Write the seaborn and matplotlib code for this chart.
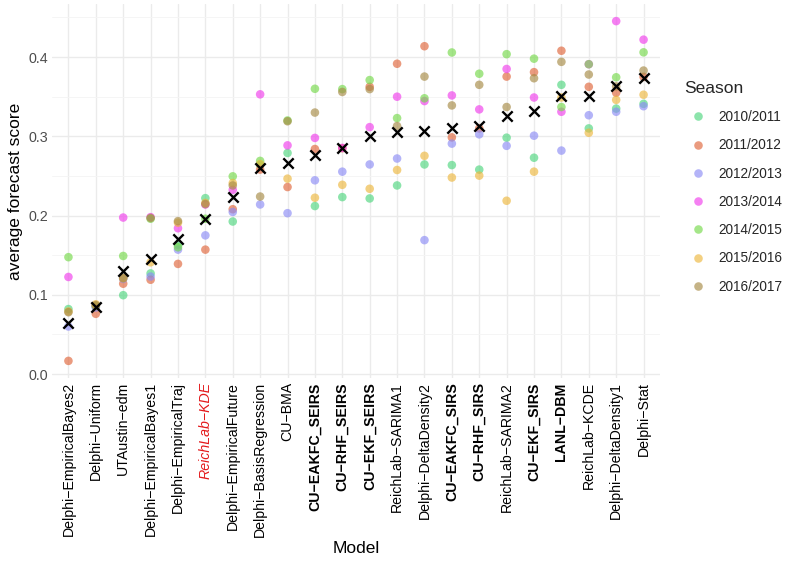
import pandas as pd
import numpy as np
import matplotlib
matplotlib.use('Agg')
import matplotlib.pyplot as plt
import seaborn as sns

sns.set_theme(style='whitegrid')
plt.rcParams['font.family'] = ['Liberation Sans', 'DejaVu Sans']

# models in order of average score
models = ["Delphi−EmpiricalBayes2", "Delphi−Uniform", "UTAustin−edm",
          "Delphi−EmpiricalBayes1", "Delphi−EmpiricalTraj", "ReichLab−KDE",
          "Delphi−EmpiricalFuture", "Delphi−BasisRegression", "CU−BMA",
          "CU−EAKFC_SEIRS", "CU−RHF_SEIRS", "CU−EKF_SEIRS", "ReichLab−SARIMA1",
          "Delphi−DeltaDensity2", "CU−EAKFC_SIRS", "CU−RHF_SIRS",
          "ReichLab−SARIMA2", "CU−EKF_SIRS", "LANL−DBM", "ReichLab−KCDE",
          "Delphi−DeltaDensity1", "Delphi−Stat"]
bold_models = ["CU−EAKFC_SEIRS", "CU−RHF_SEIRS", "CU−EKF_SEIRS",
               "CU−EAKFC_SIRS", "CU−RHF_SIRS", "CU−EKF_SIRS", "LANL−DBM"]
red_model = "ReichLab−KDE"

seasons = ["2010/2011", "2011/2012", "2012/2013", "2013/2014",
           "2014/2015", "2015/2016", "2016/2017"]

s2010 = [0.082, 0.085, 0.0995, 0.127, 0.163, 0.222, 0.1925, 0.264, 0.279, 0.212, 0.2233,
         0.2216, 0.238, 0.2645, 0.2637, 0.258, 0.2983, 0.273, 0.365, 0.310, 0.335, 0.341]
s2011 = [0.0166, 0.076, 0.114, 0.119, 0.139, 0.157, 0.208, 0.258, 0.236, 0.284, 0.285,
         0.3625, 0.3916, 0.4137, 0.2987, 0.310, 0.3754, 0.381, 0.408, 0.3625, 0.355, 0.375]
s2012 = [0.060, 0.084, 0.120, 0.123, 0.157, 0.175, 0.2045, 0.214, 0.203, 0.2445, 0.2554,
         0.2645, 0.272, 0.169, 0.2908, 0.3025, 0.288, 0.3008, 0.282, 0.3266, 0.331, 0.338]
s2013 = [0.1225, 0.086, 0.1975, 0.198, 0.184, 0.214, 0.2325, 0.353, 0.2886, 0.298, 0.2854,
         0.3116, 0.350, 0.3445, 0.3516, 0.334, 0.385, 0.349, 0.331, 0.391, 0.4454, 0.422]
s2014 = [0.1475, 0.086, 0.149, 0.196, 0.160, 0.196, 0.2495, 0.269, 0.320, 0.360, 0.3596,
         0.371, 0.323, 0.348, 0.4058, 0.379, 0.4037, 0.398, 0.337, 0.391, 0.3745, 0.406]
s2015 = [0.079, 0.088, 0.121, 0.141, 0.191, 0.216, 0.241, 0.265, 0.2466, 0.2225, 0.2388,
         0.2338, 0.2575, 0.2754, 0.248, 0.2504, 0.2187, 0.2554, 0.349, 0.3045, 0.346, 0.3525]
s2016 = [0.078, 0.087, 0.121, 0.197, 0.193, 0.2145, 0.238, 0.224, 0.319, 0.330, 0.356,
         0.3596, 0.313, 0.3754, 0.339, 0.365, 0.337, 0.3733, 0.394, 0.378, 0.363, 0.383]
avg_score = [0.065, 0.0845, 0.130, 0.145, 0.171, 0.196, 0.223, 0.260, 0.2666, 0.276, 0.2854,
             0.301, 0.306, 0.3066, 0.311, 0.3125, 0.3258, 0.332, 0.351, 0.351, 0.363, 0.373]

palette = ['#4fd67f', '#e0653a', '#8c8cf5', '#f03ceb', '#75d94a', '#edb73e', '#a68a45']

scores = pd.DataFrame({'Model': models * 7,
                       'Season': np.repeat(seasons, len(models)),
                       'score': s2010 + s2011 + s2012 + s2013 + s2014 + s2015 + s2016})
avgs = pd.DataFrame({'Model': models, 'score': avg_score})

fig, ax = plt.subplots(figsize=(7.93, 5.69), dpi=100)
fig.subplots_adjust(left=52/793, right=660/793, top=1-4/569, bottom=1-378/569)

sns.scatterplot(data=scores, x='Model', y='score', hue='Season', hue_order=seasons,
                palette=palette, alpha=0.65, s=38, linewidth=0, ax=ax)
sns.scatterplot(data=avgs, x='Model', y='score', marker='x', color='black',
                s=55, linewidth=1.7, ax=ax, legend=False)

ax.set_xlim(-0.6, len(models) - 0.4)
ax.set_ylim(-0.005, 0.467)
ax.set_yticks([0.0, 0.1, 0.2, 0.3, 0.4])
ax.set_yticks([0.05, 0.15, 0.25, 0.35, 0.45], minor=True)
ax.grid(True, which='major', color='#ebebeb', linewidth=1.0)
ax.grid(True, which='minor', axis='y', color='#f4f4f4', linewidth=0.6)
for sp in ax.spines.values():
    sp.set_visible(False)
ax.tick_params(axis='both', length=0, pad=3, colors='#4d4d4d')
ax.tick_params(axis='y', labelsize=10.3)
ax.tick_params(axis='x', labelsize=10.2, rotation=90)

for lbl in ax.get_xticklabels():
    txt = lbl.get_text()
    lbl.set_color('black')
    if txt in bold_models:
        lbl.set_fontweight('bold')
    if txt == red_model:
        lbl.set_color('#e41a1c')
        lbl.set_fontstyle('italic')
for lbl in ax.get_yticklabels():
    lbl.set_color('#4d4d4d')

ax.set_xlabel('Model', fontsize=12.5, color='black', labelpad=3)
ax.set_ylabel('average forecast score', fontsize=12.5, color='black', labelpad=4)

sns.move_legend(ax, 'center left', bbox_to_anchor=(1.02, 0.51), frameon=False,
                title='Season', fontsize=9.8, title_fontsize=12.5,
                labelspacing=1.05, handletextpad=0.5, alignment='left')
leg = ax.get_legend()
for h in leg.legend_handles:
    h.set_alpha(0.65)

plt.savefig('out.png', dpi=100)
